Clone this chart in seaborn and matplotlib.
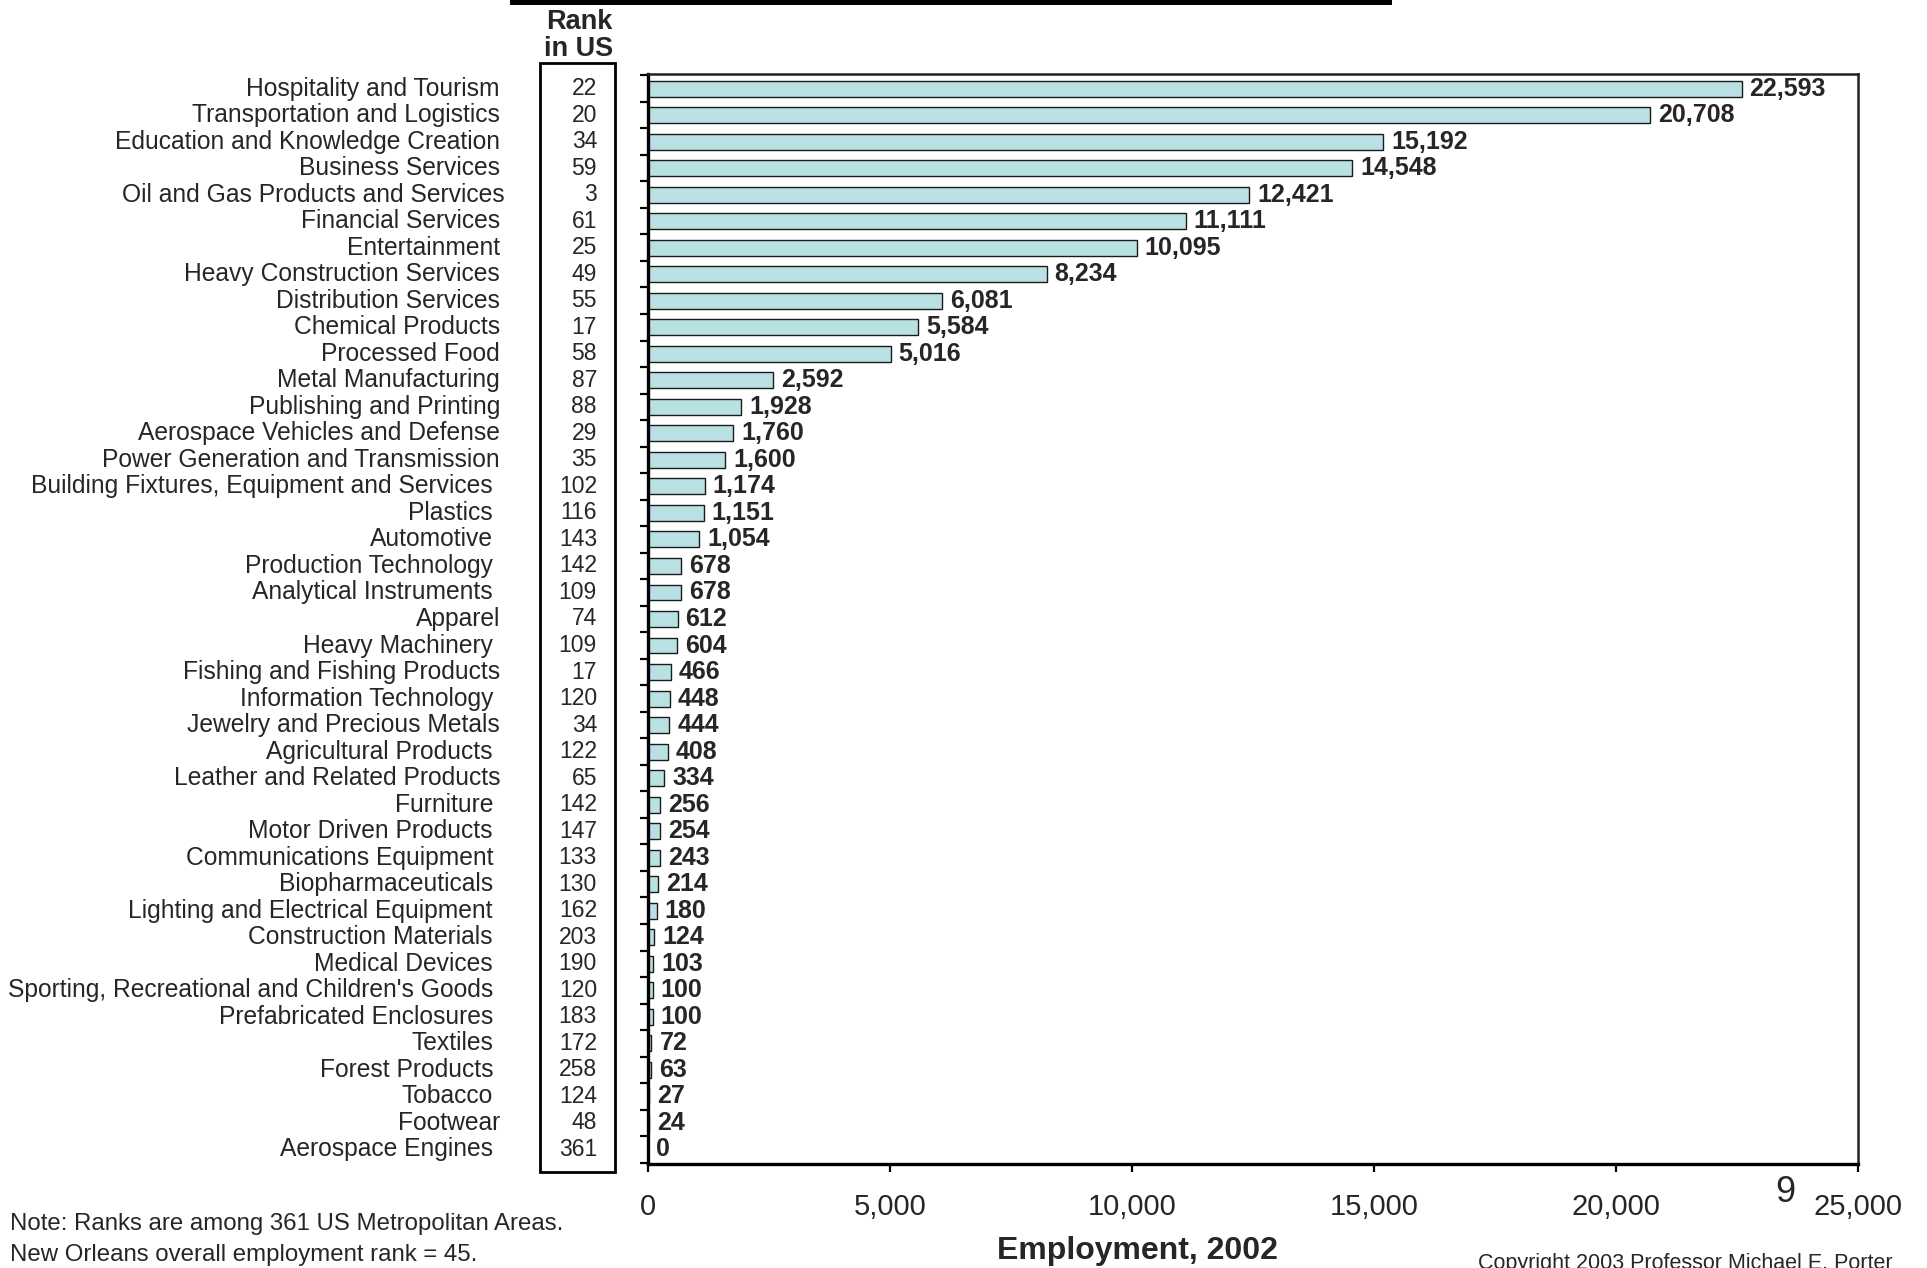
import matplotlib
matplotlib.use("Agg")
import matplotlib.pyplot as plt
import matplotlib.transforms as mtransforms
from matplotlib.patches import Rectangle
import seaborn as sns
import pandas as pd
import numpy as np

clusters = [
    "Hospitality and Tourism", "Transportation and Logistics",
    "Education and Knowledge Creation", "Business Services",
    "Oil and Gas Products and Services", "Financial Services", "Entertainment",
    "Heavy Construction Services", "Distribution Services", "Chemical Products",
    "Processed Food", "Metal Manufacturing", "Publishing and Printing",
    "Aerospace Vehicles and Defense", "Power Generation and Transmission",
    "Building Fixtures, Equipment and Services", "Plastics", "Automotive",
    "Production Technology", "Analytical Instruments", "Apparel",
    "Heavy Machinery", "Fishing and Fishing Products", "Information Technology",
    "Jewelry and Precious Metals", "Agricultural Products",
    "Leather and Related Products", "Furniture", "Motor Driven Products",
    "Communications Equipment", "Biopharmaceuticals",
    "Lighting and Electrical Equipment", "Construction Materials",
    "Medical Devices", "Sporting, Recreational and Children's Goods",
    "Prefabricated Enclosures", "Textiles", "Forest Products", "Tobacco",
    "Footwear", "Aerospace Engines",
]
employment = [
    22593, 20708, 15192, 14548, 12421, 11111, 10095, 8234, 6081, 5584,
    5016, 2592, 1928, 1760, 1600, 1174, 1151, 1054, 678, 678,
    612, 604, 466, 448, 444, 408, 334, 256, 254, 243,
    214, 180, 124, 103, 100, 100, 72, 63, 27, 24, 0,
]
rank_in_us = [
    22, 20, 34, 59, 3, 61, 25, 49, 55, 17,
    58, 87, 88, 29, 35, 102, 116, 143, 142, 109,
    74, 109, 17, 120, 34, 122, 65, 142, 147, 133,
    130, 162, 203, 190, 120, 183, 172, 258, 124, 48, 361,
]
x_ticks = [0, 5000, 10000, 15000, 20000, 25000]

df = pd.DataFrame({"cluster": clusters, "employment": employment, "rank": rank_in_us})

sns.set_theme(style="white")
plt.rcParams["font.family"] = ["Liberation Sans", "DejaVu Sans"]

W, H = 1927, 1268
fig = plt.figure(figsize=(W / 100, H / 100), dpi=100)
ax = fig.add_axes([648 / W, 1 - 1164 / H, (1858 - 648) / W, (1164 - 74) / H])

sns.barplot(data=df, x="employment", y="cluster", orient="h", ax=ax,
            color="#B9E0E3", saturation=1, width=0.6,
            edgecolor="#1a1a1a", linewidth=1.0)

ax.set_xlim(0, 25000)
ax.set_ylim(len(clusters) - 0.45, -0.55)
ax.set_xlabel("")
ax.set_ylabel("")

# spines
for side in ["top", "right"]:
    ax.spines[side].set_linewidth(1.8)
    ax.spines[side].set_color("#222222")
for side in ["left", "bottom"]:
    ax.spines[side].set_linewidth(2.4)
    ax.spines[side].set_color("black")

# x axis ticks and labels
ax.set_xticks(x_ticks)
ax.set_xticklabels([f"{t:,}" for t in x_ticks], fontsize=21)
ax.tick_params(axis="x", direction="out", length=6, width=1.6, color="black",
               pad=15, bottom=True)

# y ticks at category boundaries, no labels from the axis
ax.set_yticks([])
ax.set_yticks(np.arange(-0.5, len(clusters), 1.0), minor=True)
ax.tick_params(axis="y", which="minor", direction="out", length=6, width=1.6,
               color="black", left=True)

# value labels
for i, v in enumerate(employment):
    ax.annotate(f"{v:,}", xy=(v, i), xytext=(8, 0), textcoords="offset pixels",
                ha="left", va="center", fontsize=18, fontweight="bold")

# category names and ranks placed in figure pixel x, data y
name_tr = mtransforms.blended_transform_factory(
    mtransforms.Affine2D().scale(1 / W, 1) + fig.transFigure, ax.transData)
fig_px = mtransforms.Affine2D().scale(1 / W, 1 / H) + fig.transFigure

# names typed with a trailing blank sit one space further left
short_edge = {
    "Building Fixtures, Equipment and Services", "Plastics", "Automotive",
    "Production Technology", "Analytical Instruments", "Heavy Machinery",
    "Information Technology", "Agricultural Products", "Furniture",
    "Motor Driven Products", "Communications Equipment", "Biopharmaceuticals",
    "Lighting and Electrical Equipment", "Construction Materials",
    "Medical Devices", "Sporting, Recreational and Children's Goods",
    "Prefabricated Enclosures", "Textiles", "Forest Products", "Tobacco",
    "Aerospace Engines",
}
for i, (name, rk) in enumerate(zip(clusters, rank_in_us)):
    if name in short_edge:
        xr = 493
    elif name.startswith("Oil"):
        xr = 505
    else:
        xr = 500
    ax.text(xr, i, name, transform=name_tr, ha="right", va="center",
            fontsize=17.7, clip_on=False)
    ax.text(597, i, str(rk), transform=name_tr, ha="right", va="center",
            fontsize=16.5, clip_on=False)

# rank column box and header
fig.patches.append(Rectangle((540, H - 1172), 75, 1172 - 63, transform=fig_px,
                             fill=False, edgecolor="black", linewidth=2.0))
fig.text(579 / W, 1 - 22 / H, "Rank", ha="center", va="center",
         fontsize=19.5, fontweight="bold")
fig.text(579 / W, 1 - 49 / H, "in US", ha="center", va="center",
         fontsize=19.5, fontweight="bold")

# title underline
fig.patches.append(Rectangle((510, H - 5), 882, 5, transform=fig_px,
                             facecolor="black", edgecolor="none"))

# axis title and notes
fig.text(1137 / W, 1 - 1251 / H, "Employment, 2002", ha="center", va="center",
         fontsize=23, fontweight="bold")
fig.text(10 / W, 1 - 1224 / H, "Note: Ranks are among 361 US Metropolitan Areas.",
         ha="left", va="center", fontsize=17.3)
fig.text(10 / W, 1 - 1255 / H, "New Orleans overall employment rank = 45.",
         ha="left", va="center", fontsize=17.3)
fig.text(1785 / W, 1 - 1192 / H, "9", ha="center", va="center", fontsize=26)
fig.text(1478 / W, 1 - 1263 / H, "Copyright 2003 Professor Michael E. Porter",
         ha="left", va="center", fontsize=15.5)

fig.savefig("out.png", dpi=100)
